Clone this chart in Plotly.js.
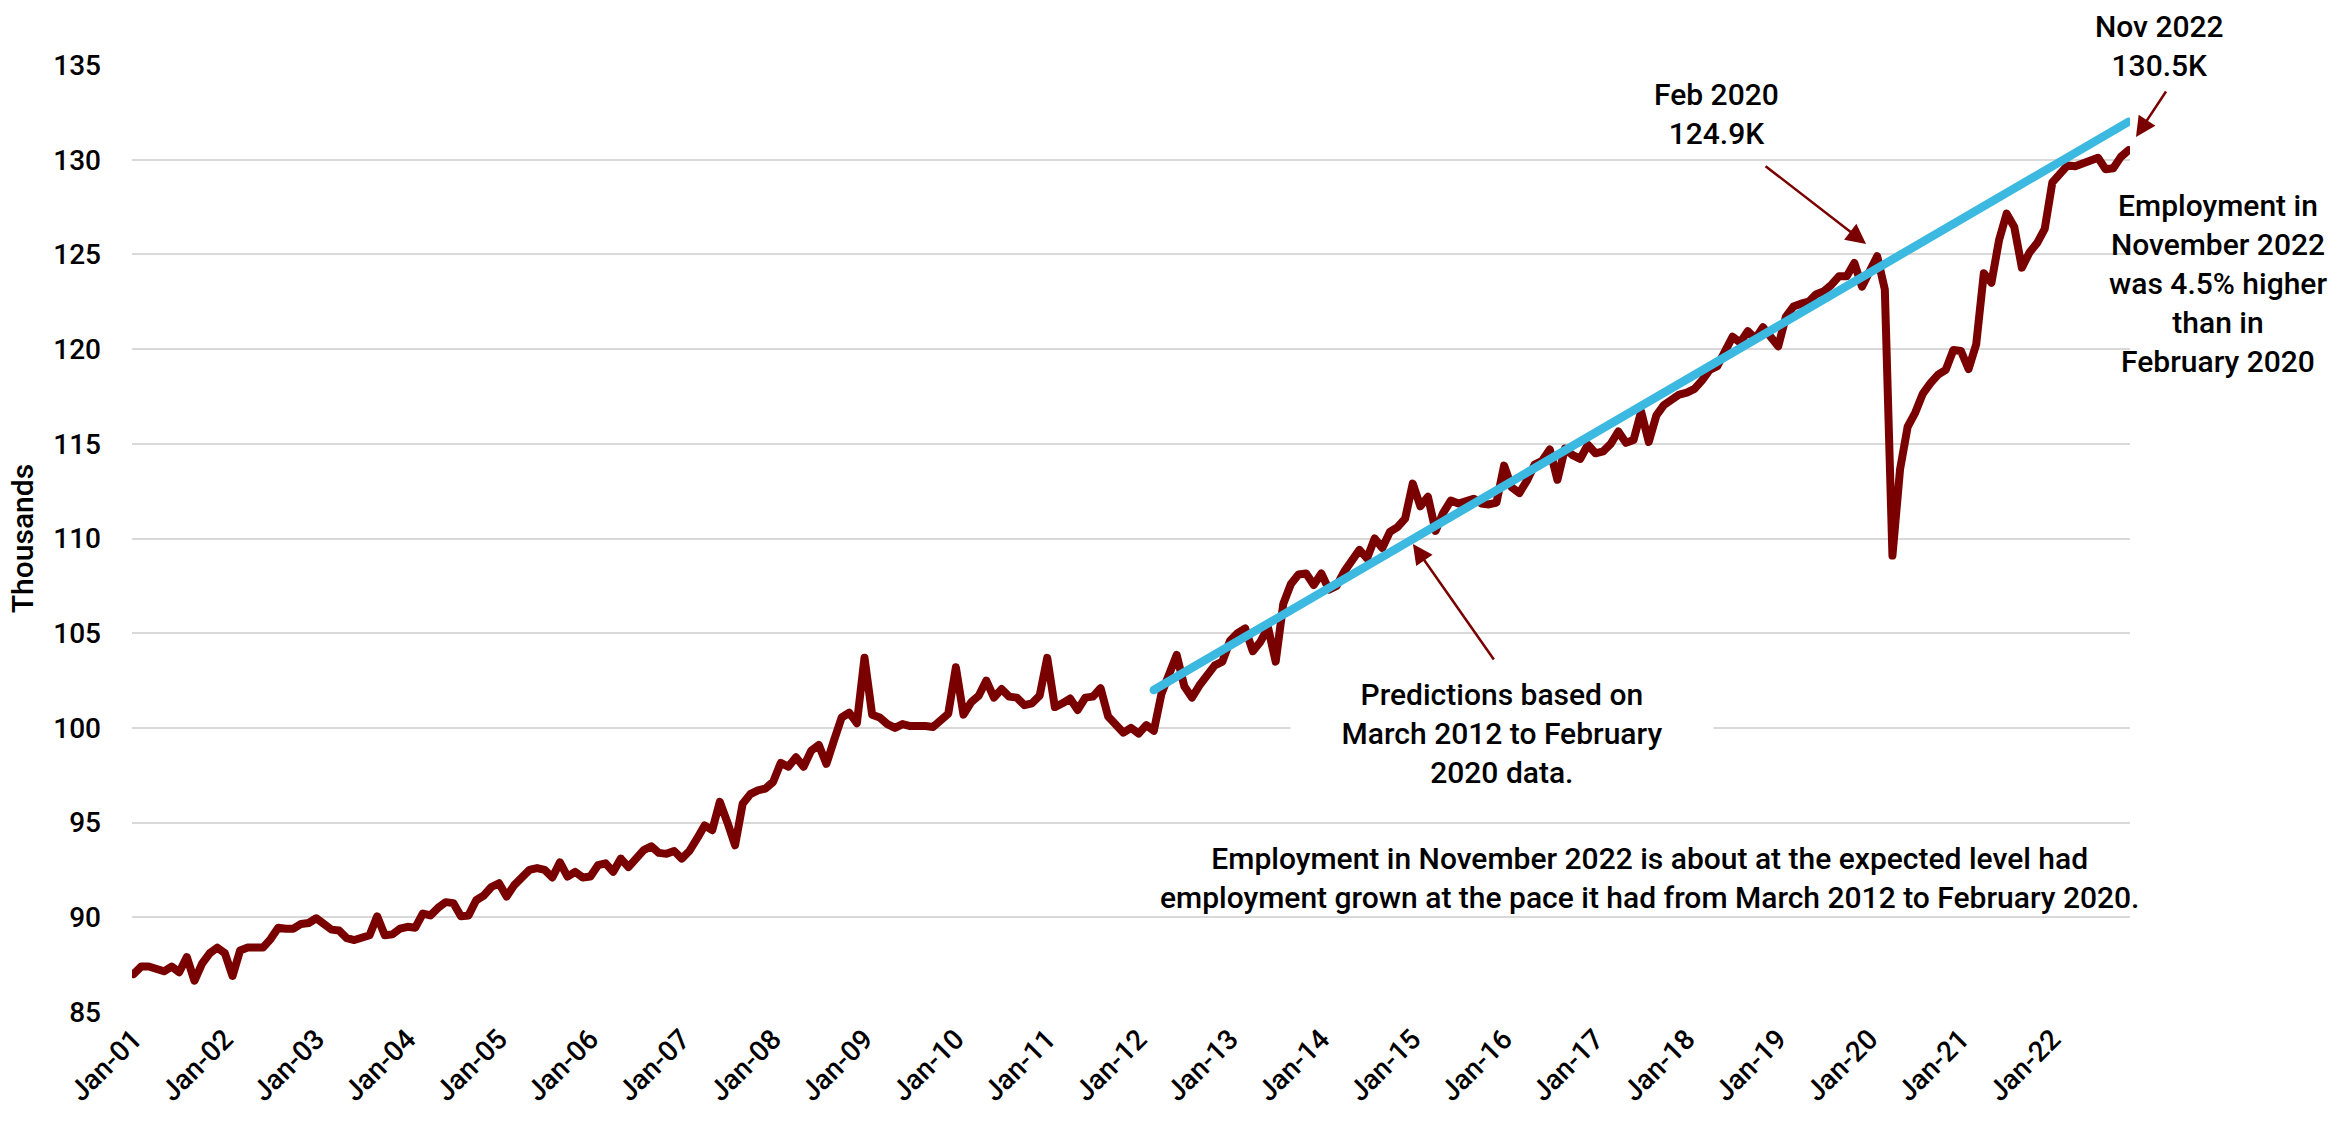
<!DOCTYPE html>
<html>
<head>
<meta charset="utf-8">
<script src="https://cdn.plot.ly/plotly-3.0.1.min.js"></script>
<style>
html, body { margin: 0; padding: 0; background: #fff; }
#chart { width: 2344px; height: 1131px; }
.scatterlayer path.js-line { stroke-linejoin: round !important; stroke-linecap: round !important; }
</style>
</head>
<body>
<div id="chart"></div>
<script>
// ---- Data ----
const monthNames = ['Jan','Feb','Mar','Apr','May','Jun','Jul','Aug','Sep','Oct','Nov','Dec'];
const firstYear = 2001;
const lastYear = 2022;
const lastMonthIndex = 10; // Nov 2022

// Monthly employment (thousands), Jan 2001 .. Nov 2022
const employment2001_2004 = [
  87.0, 87.4, 87.4, 87.25, 87.15, 87.4, 87.1, 87.9, 86.65, 87.55, 88.1, 88.4,
  88.1, 86.9, 88.25, 88.4, 88.4, 88.4, 88.85, 89.45, 89.4, 89.4, 89.65, 89.7,
  89.95, 89.6, 89.35, 89.3, 88.9, 88.8, 88.95, 89.05, 90.05, 89.05, 89.1, 89.4,
  89.5, 89.45, 90.2, 90.1, 90.5, 90.8, 90.75, 90.05, 90.1, 90.9, 91.15, 91.6
];
const employment2005_2008 = [
  91.8, 91.1, 91.7, 92.1, 92.5, 92.6, 92.5, 92.1, 92.9, 92.15, 92.4, 92.1,
  92.15, 92.75, 92.85, 92.4, 93.1, 92.65, 93.1, 93.55, 93.75, 93.4, 93.35, 93.5,
  93.1, 93.5, 94.15, 94.85, 94.6, 96.1, 95.0, 93.8, 96.0, 96.5, 96.7, 96.8,
  97.15, 98.15, 97.95, 98.45, 97.95, 98.8, 99.1, 98.1, 99.35, 100.55, 100.8, 100.25
];
const employment2009_2012 = [
  103.7, 100.7, 100.55, 100.2, 100.0, 100.2, 100.1, 100.15, 100.1, 100.05, 100.4, 100.75,
  103.2, 100.7, 101.35, 101.7, 102.5, 101.6, 102.05, 101.65, 101.6, 101.2, 101.3, 101.7,
  103.7, 101.1, 101.3, 101.55, 100.95, 101.6, 101.65, 102.1, 100.6, 100.1, 99.75, 100.0,
  99.7, 100.15, 99.85, 101.8, 102.85, 103.85, 102.2, 101.6, 102.25, 102.8, 103.3, 103.5
];
const employment2013_2016 = [
  104.6, 105.0, 105.25, 104.05, 104.55, 105.3, 103.5, 106.55, 107.6, 108.1, 108.15, 107.55,
  108.15, 107.3, 107.5, 108.25, 108.75, 109.4, 108.95, 110.0, 109.5, 110.35, 110.6, 111.05,
  112.9, 111.7, 112.2, 110.4, 111.35, 112.0, 111.85, 112.0, 112.1, 111.85, 111.8, 111.9,
  113.85, 112.7, 112.4, 113.05, 113.9, 114.1, 114.7, 113.1, 114.75, 114.4, 114.2, 114.95
];
const employment2017_2020 = [
  114.5, 114.6, 115.0, 115.65, 115.05, 115.2, 116.7, 115.1, 116.5, 117.05, 117.35, 117.6,
  117.7, 117.9, 118.35, 118.9, 119.1, 120.0, 120.65, 120.35, 120.95, 120.55, 121.15, 120.65,
  120.15, 121.7, 122.25, 122.4, 122.5, 122.9, 123.05, 123.4, 123.85, 123.85, 124.55, 123.3,
  124.1, 124.9, 123.15, 109.1, 113.65, 115.9, 116.65, 117.65, 118.2, 118.65, 118.9, 119.95
];
const employment2021_2022 = [
  119.9, 118.95, 120.25, 124.0, 123.5, 125.75, 127.15, 126.45, 124.3, 125.1, 125.6, 126.35,
  128.8, 129.3, 129.7, 129.65, 129.8, 129.85, 130.1, 129.5, 129.55, 130.15, 130.5
];

// Trend (predictions based on March 2012 to February 2020 data)
const trendCategories = ['Mar-12', 'Nov-22'];
const trendValues = [102.0, 132.0];

// Axis tick labels
const tickLabels = ['Jan-01','Jan-02','Jan-03','Jan-04','Jan-05','Jan-06','Jan-07','Jan-08',
  'Jan-09','Jan-10','Jan-11','Jan-12','Jan-13','Jan-14','Jan-15','Jan-16','Jan-17','Jan-18',
  'Jan-19','Jan-20','Jan-21','Jan-22'];
const yTickValues = [85, 90, 95, 100, 105, 110, 115, 120, 125, 130, 135];

// ---- Build categories (month labels) ----
const categories = [];
for (let y = firstYear; y <= lastYear; y++) {
  for (let m = 0; m < 12; m++) {
    if (y === lastYear && m > lastMonthIndex) break;
    categories.push(monthNames[m] + '-' + String(y % 100).padStart(2, '0'));
  }
}
const employment = [].concat(employment2001_2004, employment2005_2008, employment2009_2012,
  employment2013_2016, employment2017_2020, employment2021_2022);

const FONT = 'Roboto, "Open Sans", "DejaVu Sans", sans-serif';
const RED = '#7a0000';
const BLUE = '#3bb9e0';

const traces = [
  {
    x: categories, y: employment, type: 'scatter', mode: 'lines',
    line: { color: RED, width: 8 }, hoverinfo: 'skip', showlegend: false
  },
  {
    x: trendCategories, y: trendValues, type: 'scatter', mode: 'lines',
    line: { color: BLUE, width: 8.5 }, hoverinfo: 'skip', showlegend: false
  }
];

const textFont = { family: FONT, size: 30, color: '#000', weight: 500 };
const arrowCommon = {
  xref: 'paper', yref: 'paper', axref: 'pixel', ayref: 'pixel', text: '',
  showarrow: true, arrowhead: 2, arrowsize: 1.6, arrowwidth: 2.5, arrowcolor: RED,
  standoff: 0, startstandoff: 0
};

const layout = {
  width: 2344, height: 1131,
  margin: { l: 132, r: 214, t: 65, b: 119 },
  paper_bgcolor: '#fff', plot_bgcolor: '#fff',
  font: { family: FONT, color: '#000' },
  xaxis: {
    type: 'category',
    range: [-0.2, categories.length - 1 + 0.2],
    tickmode: 'array', tickvals: tickLabels, ticktext: tickLabels,
    tickangle: -45, tickfont: { family: FONT, size: 28, color: '#000', weight: 500 },
    showgrid: false, zeroline: false, showline: false, ticks: '',
    ticklabelstandoff: 4, fixedrange: true
  },
  yaxis: {
    range: [85, 135], tickmode: 'array', tickvals: yTickValues,
    tickfont: { family: FONT, size: 28, color: '#000', weight: 500 },
    showgrid: true, gridcolor: '#d9d9d9', gridwidth: 2,
    zeroline: false, showline: false, ticks: '', ticklabelstandoff: 30,
    title: { text: 'Thousands', font: { family: FONT, size: 30, color: '#000', weight: 500 }, standoff: 10 },
    fixedrange: true
  },
  annotations: [
    { xref: 'paper', yref: 'paper', x: 1.015, y: 1.020, xanchor: 'center', yanchor: 'middle',
      text: 'Nov 2022<br>130.5K', showarrow: false, font: textFont, align: 'center' },
    { xref: 'paper', yref: 'paper', x: 0.7928, y: 0.948, xanchor: 'center', yanchor: 'middle',
      text: 'Feb 2020<br>124.9K', showarrow: false, font: textFont, align: 'center' },
    { xref: 'paper', yref: 'paper', x: 1.044, y: 0.769, xanchor: 'center', yanchor: 'middle',
      text: 'Employment in<br>November 2022<br>was 4.5% higher<br>than in<br>February 2020',
      showarrow: false, font: textFont, align: 'center' },
    { xref: 'paper', yref: 'paper', x: 0.6857, y: 0.2936, xanchor: 'center', yanchor: 'middle',
      text: 'Predictions based on<br>March 2012 to February<br>2020 data.',
      showarrow: false, font: textFont, align: 'center', bgcolor: '#fff', width: 410, borderpad: 6 },
    { xref: 'paper', yref: 'paper', x: 0.7593, y: 0.1415, xanchor: 'center', yanchor: 'middle',
      text: 'Employment in November 2022 is about at the expected level had<br>employment grown at the pace it had from March 2012 to February 2020.',
      showarrow: false, font: textFont, align: 'center' },
    Object.assign({ x: 0.8679, y: 0.8110, ax: -102, ay: -79 }, arrowCommon),
    Object.assign({ x: 1.003, y: 0.924, ax: 31, ay: -47 }, arrowCommon),
    Object.assign({ x: 0.6411, y: 0.4942, ax: 82, ay: 117 }, arrowCommon)
  ]
};

Plotly.newPlot('chart', traces, layout, { displayModeBar: false, staticPlot: true });
</script>
</body>
</html>
